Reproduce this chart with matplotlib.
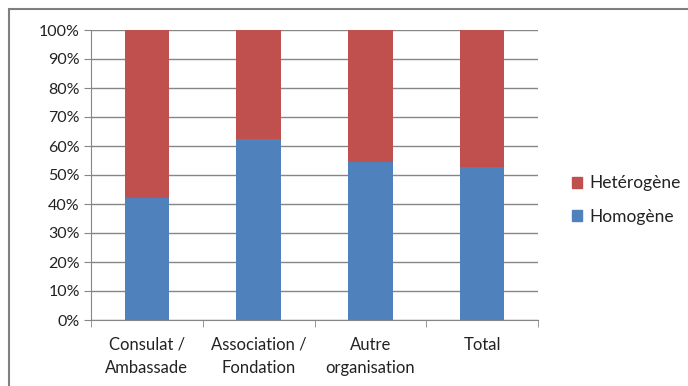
import matplotlib.pyplot as plt
import matplotlib.patches as mpatches
from matplotlib.ticker import PercentFormatter

# data (percent)
categories = ["Consulat /\nAmbassade", "Association /\nFondation", "Autre\norganisation", "Total"]
homogene = [42.0, 62.4, 54.4, 52.6]
heterogene = [100 - v for v in homogene]

blue = "#4F81BD"
red = "#C0504D"
grid_col = "#868686"

plt.rcParams['font.family'] = ['Lato', 'DejaVu Sans']

fig = plt.figure(figsize=(6.88, 3.86), dpi=100)
ax = fig.add_axes([91 / 688, 1 - 320 / 386, (538 - 91) / 688, 290 / 386])

x = range(len(categories))
ax.bar(x, homogene, width=0.4, color=blue, label="Homogène", zorder=3)
ax.bar(x, heterogene, width=0.4, bottom=homogene, color=red, label="Hetérogène", zorder=3)

ax.set_xlim(-0.5, len(categories) - 0.5)
ax.set_ylim(0, 100)
ax.set_yticks(range(0, 101, 10))
ax.yaxis.set_major_formatter(PercentFormatter(decimals=0))
ax.grid(axis='y', color=grid_col, linewidth=1, zorder=0)

ax.set_xticks(list(x))
ax.set_xticklabels(categories, fontsize=12, color="#222222", linespacing=1.55)
ax.set_xticks([i + 0.5 for i in range(-1, len(categories))], minor=True)
ax.tick_params(axis='x', which='major', length=0, pad=12)
ax.tick_params(axis='x', which='minor', length=5, color=grid_col)
ax.tick_params(axis='y', length=5, color=grid_col, labelsize=11.5, labelcolor="#222222", pad=3)

for side in ['top', 'right']:
    ax.spines[side].set_visible(False)
ax.spines['left'].set_color(grid_col)
ax.spines['bottom'].set_color(grid_col)

handles = [mpatches.Patch(color=red), mpatches.Patch(color=blue)]
fig.legend(handles, ["Hetérogène", "Homogène"], loc='center left',
           bbox_to_anchor=(556 / 688, 1 - 200 / 386), frameon=False,
           fontsize=12.5, handlelength=0.6, handleheight=0.6, labelspacing=1.0,
           handletextpad=0.4, labelcolor="#222222")

# outer chart border (right and bottom edges fall outside the picture)
fig.patches.append(mpatches.Rectangle((9 / 688, -0.05), 1.1, 1 - 9 / 386 + 0.05,
                                      transform=fig.transFigure, fill=False,
                                      edgecolor="#7f7f7f", linewidth=1.5))

fig.savefig("out.png", dpi=100)
